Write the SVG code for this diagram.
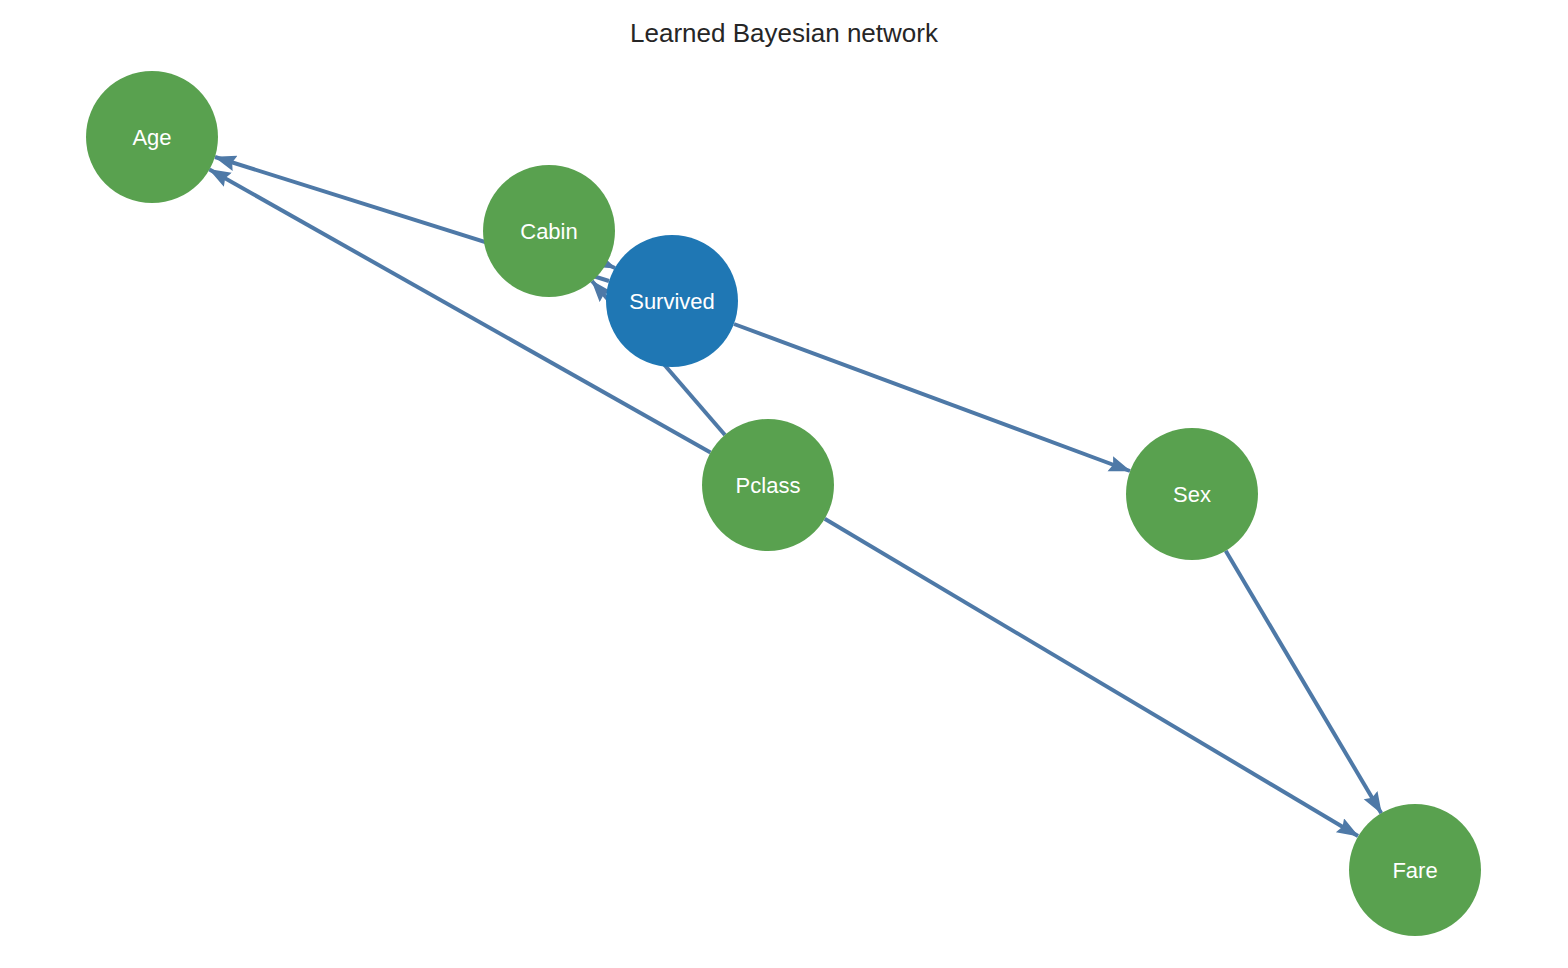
<svg xmlns="http://www.w3.org/2000/svg" width="1568" height="968" viewBox="0 0 1568 968">
<style>
.e{stroke:#4e79a7;stroke-width:4;fill:none;marker-end:url(#a)}
.n circle{fill:#59a14f}
.n text{fill:#fff;font-family:"Liberation Sans",Arial,sans-serif;font-size:22px;text-anchor:middle;dominant-baseline:central}
</style>
<defs><marker id="a" markerUnits="userSpaceOnUse" markerWidth="24" markerHeight="18" refX="21" refY="8" orient="auto"><path d="M0,0 L22,8 L0,16 L3,8 z" fill="#4e79a7"/></marker></defs>
<rect width="1568" height="968" fill="#fff"/>
<text x="784" y="33" font-family="Liberation Sans,Arial,sans-serif" font-size="26" fill="#262626" text-anchor="middle" dominant-baseline="central">Learned Bayesian network</text>
<g id="edges">
<line class="e" x1="609" y1="281" x2="215" y2="157"/>
<line class="e" x1="606" y1="264" x2="615" y2="268"/>
<line class="e" x1="725" y1="435" x2="592" y2="281"/>
<line class="e" x1="710.5" y1="452.5" x2="209.5" y2="169.5"/>
<line class="e" x1="734" y1="324" x2="1130" y2="471"/>
<line class="e" x1="824.7" y1="518.7" x2="1358" y2="836"/>
<line class="e" x1="1225.7" y1="550.8" x2="1381.3" y2="813.2"/>
</g>
<g id="Age" class="n"><circle cx="152" cy="137" r="66"/><text x="152" y="137">Age</text></g>
<g id="Cabin" class="n"><circle cx="549" cy="231" r="66"/><text x="549" y="231">Cabin</text></g>
<g id="Survived" class="n"><circle cx="672" cy="301" r="66" style="fill:#1f77b4"/><text x="672" y="301">Survived</text></g>
<g id="Pclass" class="n"><circle cx="768" cy="485" r="66"/><text x="768" y="485">Pclass</text></g>
<g id="Sex" class="n"><circle cx="1192" cy="494" r="66"/><text x="1192" y="494">Sex</text></g>
<g id="Fare" class="n"><circle cx="1415" cy="870" r="66"/><text x="1415" y="870">Fare</text></g>
</svg>
